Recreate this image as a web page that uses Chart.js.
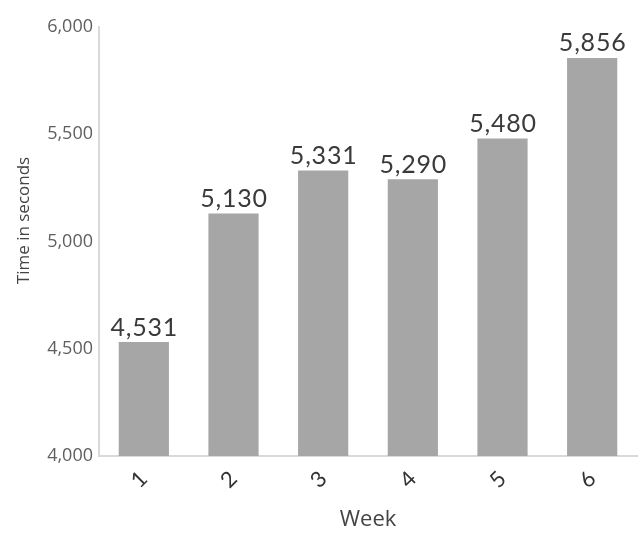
<!DOCTYPE html>
<html>
<head>
<meta charset="utf-8">
<script src="https://cdn.jsdelivr.net/npm/chart.js@4/dist/chart.umd.min.js"></script>
<style>
  html, body { margin: 0; padding: 0; background: #fff; }
  #wrap { width: 641px; height: 533px; }
</style>
</head>
<body>
<div id="wrap"><canvas id="barChart" width="641" height="533"></canvas></div>
<script>
const weeks = ['1', '2', '3', '4', '5', '6']
const timeSeconds = [4531, 5130, 5331, 5290, 5480, 5856]
const yTicks = [4000, 4500, 5000, 5500, 6000]
const yTitle = 'Time in seconds'

const fmt = (v) => v.toLocaleString('en-US')

// draws the value above each bar
const valueLabels = {
    id: 'valueLabels',
    afterDatasetsDraw(chart){
        const ctx = chart.ctx
        const meta = chart.getDatasetMeta(0)
        ctx.save()
        ctx.font = '400 25px Lato'
        ctx.letterSpacing = '0.8px'
        ctx.fillStyle = '#3a3a3a'
        ctx.textAlign = 'center'
        ctx.textBaseline = 'bottom'
        meta.data.forEach((bar, i) => {
            ctx.fillText(fmt(chart.data.datasets[0].data[i]), bar.x + 0.5, bar.y - 2)
        })
        ctx.restore()
    }
}

// y title sits a bit above the middle of the plot, so draw it by hand
const sideTitle = {
    id: 'sideTitle',
    afterDraw(chart){
        const ctx = chart.ctx
        const area = chart.chartArea
        ctx.save()
        ctx.translate(24, (area.top + area.bottom) / 2 - 21)
        ctx.rotate(-Math.PI / 2)
        ctx.font = '17px "Open Sans"'
        ctx.fillStyle = '#444'
        ctx.textAlign = 'center'
        ctx.textBaseline = 'middle'
        ctx.fillText(yTitle, 0, 0)
        ctx.restore()
    }
}

new Chart(document.querySelector('#barChart'), {
    type: 'bar',
    data: {
        labels: weeks,
        datasets: [{
            data: timeSeconds,
            backgroundColor: '#a6a6a6',
            categoryPercentage: 1,
            barPercentage: 0.56
        }]
    },
    options: {
        responsive: false,
        animation: false,
        layout: { padding: { top: 27, right: 4, left: 0, bottom: 0 } },
        plugins: { legend: { display: false }, tooltip: { enabled: false } },
        scales: {
            x: {
                grid: { display: false, drawTicks: false },
                border: { color: '#d9d9d9', width: 2 },
                ticks: {
                    color: '#333',
                    font: { family: 'Lato', size: 22 },
                    minRotation: 45,
                    maxRotation: 45,
                    padding: 10
                },
                title: {
                    display: true,
                    text: 'Week',
                    color: '#444',
                    font: { family: 'Open Sans', size: 22 },
                    padding: { top: 0, bottom: 0 }
                },
                afterFit(s){ s.height = 77 }
            },
            y: {
                min: 4000,
                max: 6000,
                grid: { display: false, drawTicks: false },
                border: { color: '#d9d9d9', width: 2 },
                afterBuildTicks(s){ s.ticks = yTicks.map(v => ({ value: v })) },
                ticks: {
                    color: '#5f5f5f',
                    font: { family: 'Open Sans', size: 18 },
                    padding: 6,
                    callback: (v) => fmt(v)
                },
                afterFit(s){ s.width = 99 }
            }
        }
    },
    plugins: [valueLabels, sideTitle]
})
</script>
</body>
</html>
